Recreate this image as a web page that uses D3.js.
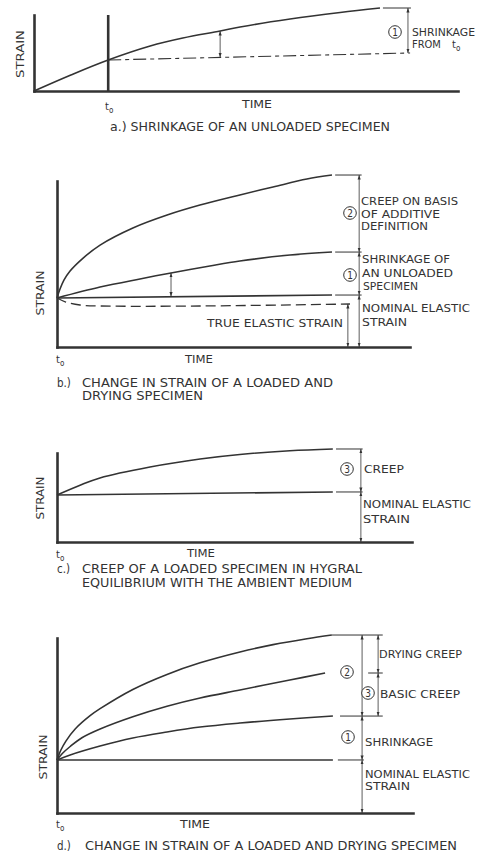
<!DOCTYPE html>
<html><head><meta charset="utf-8">
<script src="https://cdn.jsdelivr.net/npm/d3@7"></script>
<style>body{margin:0;background:#fff}svg{display:block}</style>
</head><body><svg id="c" width="480" height="852"></svg>
<script>
// ---------- DATA (time 0..100 along axis, strain 0..100 up the axis) ----------
// panel a
const aShrinkage = [[0,0],[8.7,21.1],[17.5,40.8],[27.4,59.2],[35.1,69.7],[43.9,78.9],[48.6,84.2],[60.4,94.7],[72.2,103.3],[81.6,109.2]];
const aStrainAtT0 = [[17.5,40.8],[88.7,50]];
const aT0 = 17.5;
// panel b
const bCreepTotal = [[0,29.5],[0.85,34.9],[2.0,40.4],[3.7,45.8],[7.4,53.6],[12.2,61.4],[21.5,71.7],[31.2,79.5],[40.5,85.5],[51.8,91.6],[61.2,96.4],[70.8,101.2],[77.9,103.6]];
const bShrinkage = [[0,29.5],[12.2,36.1],[23.5,41],[32.3,44.6],[43.3,48.8],[51.8,51.8],[66,55.4],[77.9,57.2]];
const bNominal = [[0,29.5],[77.9,31.3]];
const bTrueElastic = [[0,29.5],[2.5,27.1],[6.5,25.3],[12.2,24.7],[40.5,24.7],[83,25.9]];
const bLevels = [103.6,57.2,31.3,0];
// panel c
const cCreep = [[0,52.8],[6.5,63.8],[12.1,72],[26.2,84.3],[40.3,93.3],[51.5,98.4],[65.6,102.5],[77.7,104.5]];
const cNominal = [[0,52.8],[77.7,56.2]];
const cLevels = [104.5,56.2,0];
// panel d
const dTotal = [[0,30.3],[1.1,36],[2.5,41.1],[5.1,48],[9.3,55.6],[12.1,59.6],[21.3,70.6],[30.9,79.2],[40.2,85.8],[51.4,92],[60.7,96.2],[70.2,99.6],[77.2,101.7]];
const dBasic = [[0,30.3],[1.5,34],[3.7,38],[7,43],[12.1,48],[21.3,55],[30.9,61],[40.2,65.7],[51.4,70.3],[65.4,76],[75.3,80]];
const dShrinkage = [[0,30.3],[3.7,33.2],[12.1,38.3],[21.3,42.9],[30.9,46.3],[40.2,49.1],[51.4,51.4],[65.4,53.7],[77.5,55.4]];
const dNominal = [[0,30.3],[77.5,30.3]];
const dLevelsMain = [101.7,55.4,30.3,0];
const dLevelsCreep = [101.7,80,55.4];
// texts
const axisTime = "TIME", axisStrain = "STRAIN";
const capA = ["a.) SHRINKAGE OF AN UNLOADED SPECIMEN"];
const capB = ["CHANGE IN STRAIN OF A LOADED AND","DRYING SPECIMEN"];
const capC = ["CREEP OF A LOADED SPECIMEN IN HYGRAL","EQUILIBRIUM WITH THE AMBIENT MEDIUM"];
const capD = ["CHANGE IN STRAIN OF A LOADED AND DRYING SPECIMEN"];

// ---------- DRAWING ----------
const INK = "#333";
const FONT = "'Liberation Sans Narrow','DejaVu Sans Condensed','Liberation Sans',sans-serif";
const svg = d3.select("#c").attr("font-family", FONT);
const defs = svg.append("defs");
defs.append("marker").attr("id","ah").attr("viewBox","0 0 10 10").attr("refX",10).attr("refY",5)
  .attr("markerWidth",4.5).attr("markerHeight",4.5).attr("markerUnits","userSpaceOnUse")
  .attr("orient","auto-start-reverse")
  .append("path").attr("d","M0,1.5L10,5L0,8.5Z").attr("fill",INK);

function panel(x0,x1,y0,y1){
  return {x:d3.scaleLinear().domain([0,100]).range([x0,x1]),
          y:d3.scaleLinear().domain([0,100]).range([y0,y1])};
}
function axes(p){
  const st = s=>s.select(".domain").attr("stroke",INK).attr("stroke-width",2.6).attr("stroke-linecap","square");
  svg.append("g").attr("transform",`translate(0,${p.y(0)})`)
    .call(d3.axisBottom(p.x).tickValues([]).tickSizeOuter(0)).call(st);
  svg.append("g").attr("transform",`translate(${p.x(0)},0)`)
    .call(d3.axisLeft(p.y).tickValues([]).tickSizeOuter(0)).call(st);
}
function curve(p,data,opt={}){
  const l = d3.line().x(d=>p.x(d[0])).y(d=>p.y(d[1])).curve(d3.curveCatmullRom.alpha(0.5));
  const path = svg.append("path").attr("d",l(data)).attr("fill","none").attr("stroke",INK)
    .attr("stroke-width",opt.w||1.6).attr("stroke-linejoin","round");
  if(opt.dash) path.attr("stroke-dasharray",opt.dash);
  return path;
}
function hline(p,t1,t2,s,w){
  svg.append("line").attr("x1",p.x(t1)).attr("x2",p.x(t2)).attr("y1",p.y(s)).attr("y2",p.y(s))
    .attr("stroke",INK).attr("stroke-width",w||1);
}
function dim(p,t,levels){
  for(let i=0;i<levels.length-1;i++){
    svg.append("line").attr("x1",p.x(t)).attr("x2",p.x(t)).attr("y1",p.y(levels[i])).attr("y2",p.y(levels[i+1]))
      .attr("stroke",INK).attr("stroke-width",0.8)
      .attr("marker-start","url(#ah)").attr("marker-end","url(#ah)");
  }
}
function txt(x,y,s,w,size){
  const t = svg.append("text").attr("x",x).attr("y",y).attr("fill",INK).attr("font-size",size||11).text(s);
  if(w) t.attr("textLength",w).attr("lengthAdjust","spacingAndGlyphs");
  return t;
}
function ylabel(cx,cy,len){
  svg.append("text").attr("transform",`translate(${cx},${cy}) rotate(-90)`).attr("text-anchor","middle")
    .attr("dominant-baseline","central").attr("fill",INK).attr("font-size",11)
    .attr("textLength",len).attr("lengthAdjust","spacingAndGlyphs").text(axisStrain);
}
function t0(x,y){
  const t = svg.append("text").attr("x",x).attr("y",y).attr("fill",INK).attr("font-size",11);
  t.append("tspan").text("t");
  t.append("tspan").attr("dy",3).attr("font-size",8).text("o");
}
function circ(cx,cy,n){
  svg.append("circle").attr("cx",cx).attr("cy",cy).attr("r",6.3).attr("fill","#fff").attr("stroke",INK).attr("stroke-width",1);
  svg.append("text").attr("x",cx).attr("y",cy+0.5).attr("text-anchor","middle").attr("dominant-baseline","central")
    .attr("font-size",10).attr("fill",INK).text(n);
}

// ---- panel a ----
{
  const p = panel(34,458,91,15);
  axes(p);
  svg.append("line").attr("x1",p.x(aT0)).attr("x2",p.x(aT0)).attr("y1",p.y(0)).attr("y2",p.y(100))
    .attr("stroke",INK).attr("stroke-width",2.6);
  curve(p,aShrinkage);
  curve(p,aStrainAtT0,{w:1.1,dash:"13,4,4,4"});
  hline(p,82.3,88.9,aShrinkage[aShrinkage.length-1][1]);
  dim(p,88.2,[aShrinkage[aShrinkage.length-1][1],49.9]);
  dim(p,43.9,[78.9,44.3]);
  circ(395,32,"1");
  txt(412,36,"SHRINKAGE",63);
  txt(412,48,"FROM ",null);
  t0(452,48);
  ylabel(20,54,48);
  t0(105,110);
  txt(242,108,axisTime,30);
  txt(110,131,capA[0],280,11.5);
}
// ---- panel b ----
{
  const p = panel(57,410,347,181);
  axes(p);
  curve(p,bCreepTotal);
  curve(p,bShrinkage);
  curve(p,bNominal);
  curve(p,bTrueElastic,{w:1.3,dash:"10,5"});
  [bLevels[0],bLevels[1],bLevels[2]].forEach(s=>hline(p,78.8,86.3,s));
  dim(p,85.6,bLevels);
  dim(p,82.4,[25.9,0]);
  dim(p,32.3,[44.6,30.4]);
  circ(350,213,"2");
  txt(361,205,"CREEP ON BASIS",97);
  txt(361,218,"OF ADDITIVE",79);
  txt(361,230,"DEFINITION",67);
  circ(350,275,"1");
  txt(362,263,"SHRINKAGE OF",88);
  txt(362,277,"AN UNLOADED",91);
  txt(363,290,"SPECIMEN",55);
  txt(362,312,"NOMINAL ELASTIC",108);
  txt(362,326,"STRAIN",45);
  txt(207,327,"TRUE ELASTIC STRAIN",136);
  ylabel(40,293,45);
  t0(56,363);
  txt(185,363,axisTime,28);
  txt(57,387,"b.)",null,11.5);
  txt(82,387,capB[0],251,11.5);
  txt(82,400,capB[1],121,11.5);
}
// ---- panel c ----
{
  const p = panel(57,412,542,453);
  axes(p);
  curve(p,cCreep);
  curve(p,cNominal);
  [cLevels[0],cLevels[1]].forEach(s=>hline(p,78.6,86.1,s));
  dim(p,85.6,cLevels);
  circ(347,469,"3");
  txt(364,473,"CREEP",40);
  txt(363,508,"NOMINAL ELASTIC",108);
  txt(363,523,"STRAIN",47);
  ylabel(40,498,43);
  t0(56,558);
  txt(187,557,axisTime,28);
  txt(57,573,"c.)",null,11.5);
  txt(82,573,capC[0],280,11.5);
  txt(82,587,capC[1],270,11.5);
}
// ---- panel d ----
{
  const p = panel(57,413,813,638);
  axes(p);
  curve(p,dTotal);
  curve(p,dBasic);
  curve(p,dShrinkage);
  curve(p,dNominal);
  hline(p,77.2,91.5,dLevelsMain[0]);
  hline(p,87.4,91.5,dLevelsCreep[1]);
  hline(p,79.5,91.5,dLevelsMain[1]);
  hline(p,78.9,86.2,dLevelsMain[2]);
  dim(p,85.7,dLevelsMain);
  dim(p,90.2,dLevelsCreep);
  txt(379,658,"DRYING CREEP",83);
  circ(347,672,"2");
  circ(368,693,"3");
  txt(380,698,"BASIC CREEP",80);
  circ(348,737,"1");
  txt(365,746,"SHRINKAGE",68);
  txt(365,778,"NOMINAL ELASTIC",105);
  txt(365,790,"STRAIN",45);
  ylabel(43,757,45);
  t0(56,828);
  txt(180,828,axisTime,30);
  txt(57,850,"d.)",null,11.5);
  txt(85,850,capD[0],372,11.5);
}
</script></body></html>
